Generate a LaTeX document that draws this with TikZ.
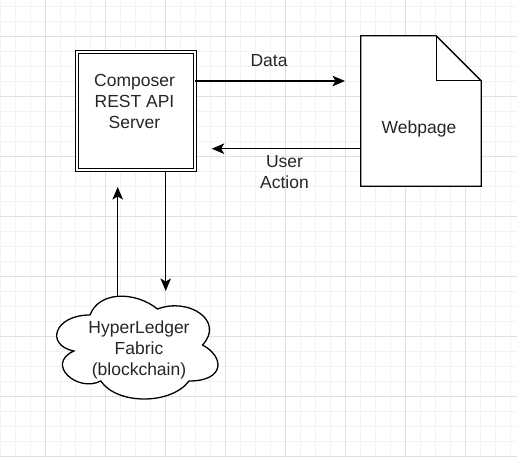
\documentclass[tikz,border=0pt]{standalone}
\usepackage{fontspec}
\setmainfont{Liberation Sans}
\usetikzlibrary{arrows.meta}
\begin{document}
\begin{tikzpicture}[x=1pt,y=-1pt,
  line/.style={line width=1.3pt, draw=black},
  arr/.style={line, -{Stealth[length=12.5pt,width=10.5pt,inset=3pt]}},
  lbl/.style={font=\fontsize{17.5}{21}\selectfont, text=black!85, inner sep=0pt, align=center},
  minorgrid/.style={draw=black!5, line width=0.8pt},
  majorgrid/.style={draw=black!12, line width=0.8pt}]
\useasboundingbox[fill=white] (0,0) rectangle (517,456);
% grid
\foreach \x in {0,15,...,510} \draw[minorgrid] (\x+0.5,0) -- (\x+0.5,456);
\foreach \y in {6,21,...,456} \draw[minorgrid] (0,\y) -- (517,\y);
\foreach \x in {45,105,...,465} \draw[majorgrid] (\x+0.5,0) -- (\x+0.5,456);
\foreach \y in {36,96,...,456} \draw[majorgrid] (0,\y) -- (517,\y);
% server box
\node[draw, fill=white, line width=1.3pt, double, double distance=1.7pt, minimum width=117.5pt, minimum height=118pt, inner sep=0pt] (box) at (136,111.1) {};
\node[lbl] (boxlbl) at (134.5,101.9) {Composer\\REST API\\Server};
% webpage note
\node[minimum width=120pt, minimum height=150pt, inner sep=0pt] (web) at (421,111) {};
\draw[line, fill=white, line join=miter] (web.south west) -- (web.north west) -- ([xshift=-45pt]web.north east) -- ([yshift=-45pt]web.north east) -- (web.south east) -- cycle;
\draw[line] ([xshift=-45pt]web.north east) -- ++(0,45) -- ([yshift=-45pt]web.north east);
\node[lbl, anchor=base] (weblbl) at (419,133.3) {Webpage};
% cloud
\draw[line, fill=white] (90,315) .. controls (54,315) and (45,345) .. (73.8,351)
  .. controls (45,364.2) and (77.4,393) .. (100.8,381)
  .. controls (117,405) and (171,405) .. (189,381)
  .. controls (225,381) and (225,357) .. (202.5,345)
  .. controls (225,321) and (189,297) .. (157.5,309)
  .. controls (135,291) and (99,291) .. (90,315) -- cycle;
\node[lbl] (cloudlbl) at (139,349.6) {HyperLedger\\Fabric\\(blockchain)};
\coordinate (cloudtop) at (117.7,296.3);
% connectors
\coordinate (dataEnd) at (345,81);
\draw[arr] (box.east |- dataEnd) -- (dataEnd);
\node[lbl, anchor=base] (datalbl) at (269,66) {Data};
\coordinate (uaEnd) at (211.7,148.7);
\draw[arr] (web.west |- uaEnd) -- (uaEnd);
\node[lbl] (ualbl) at (284.5,172.5) {User\\Action};
\coordinate (upEnd) at (117.7,187);
\draw[arr] (cloudtop) -- (upEnd);
\coordinate (downEnd) at (165.7,291);
\draw[arr] (box.south -| downEnd) -- (downEnd);
\end{tikzpicture}
\end{document}
